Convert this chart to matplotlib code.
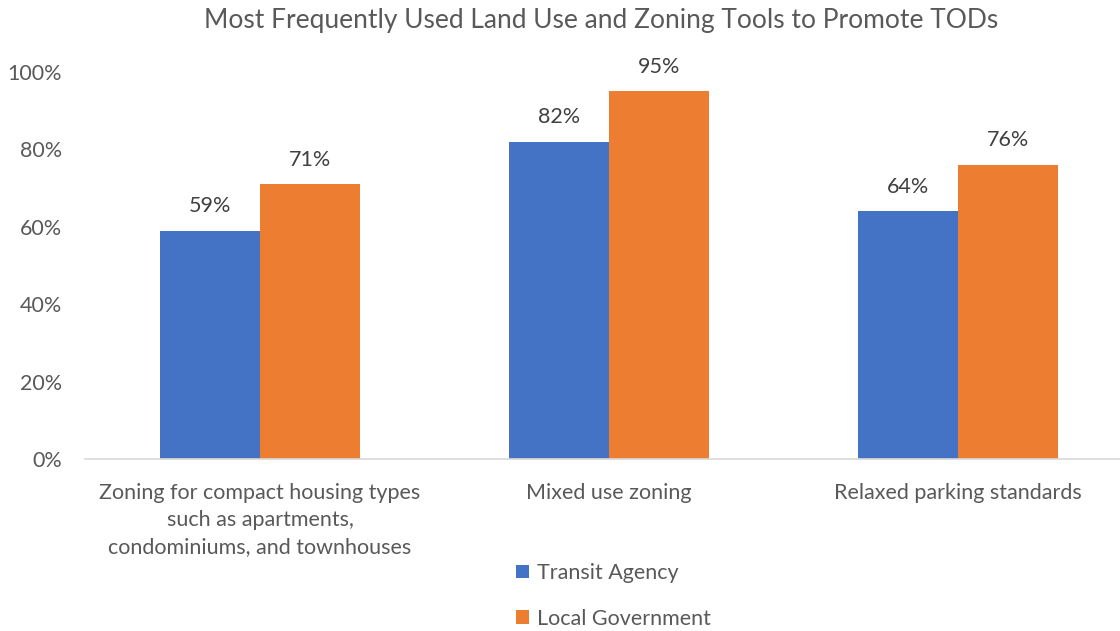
import matplotlib.pyplot as plt
import numpy as np

categories = ["Zoning for compact housing types\nsuch as apartments,\ncondominiums, and townhouses",
              "Mixed use zoning",
              "Relaxed parking standards"]
transit_agency = [59, 82, 64]
local_government = [71, 95, 76]
series_names = ["Transit Agency", "Local Government"]

plt.rcParams['font.family'] = ['Lato', 'DejaVu Sans']
gray = '#595959'

fig = plt.figure(figsize=(11.2, 6.31), dpi=100)
ax = fig.add_axes([85.5 / 1120, 172 / 631, 1047 / 1120, 387 / 631])

x = np.arange(len(categories))
w = 0.286
b1 = ax.bar(x - w / 2, transit_agency, w, color='#4472C4', label=series_names[0])
b2 = ax.bar(x + w / 2, local_government, w, color='#ED7D31', label=series_names[1])

for bars, vals in [(b1, transit_agency), (b2, local_government)]:
    for bar, v in zip(bars, vals):
        ax.text(bar.get_x() + bar.get_width() / 2, v + 3.8, f"{v}%",
                ha='center', va='bottom', fontsize=15.5, color='#404040')

ax.set_xlim(-0.5, 2.5)
ax.set_ylim(0, 100)
ax.set_yticks([0, 20, 40, 60, 80, 100])
ax.set_yticklabels([f"{t}%" for t in [0, 20, 40, 60, 80, 100]])
ax.set_xticks(x)
ax.set_xticklabels(categories, fontsize=15.5, color=gray, linespacing=1.45)
ax.tick_params(axis='y', labelsize=15.5, labelcolor=gray, length=0, pad=17)
ax.tick_params(axis='x', length=0, pad=17)
for s in ['top', 'right', 'left']:
    ax.spines[s].set_visible(False)
ax.spines['bottom'].set_color('#d9d9d9')
ax.spines['bottom'].set_linewidth(1.2)

fig.text(601 / 1120, 0.968, "Most Frequently Used Land Use and Zoning Tools to Promote TODs",
         ha='center', va='center', fontsize=19, color=gray)

fig.legend(handles=[b1, b2], loc='center left', bbox_to_anchor=(505 / 1120, 1 - 596 / 631),
           frameon=False, fontsize=15.5, labelcolor=gray, handlelength=0.6, handleheight=0.6,
           handletextpad=0.4, labelspacing=1.2, borderpad=0)

fig.savefig('out.png', dpi=100)
